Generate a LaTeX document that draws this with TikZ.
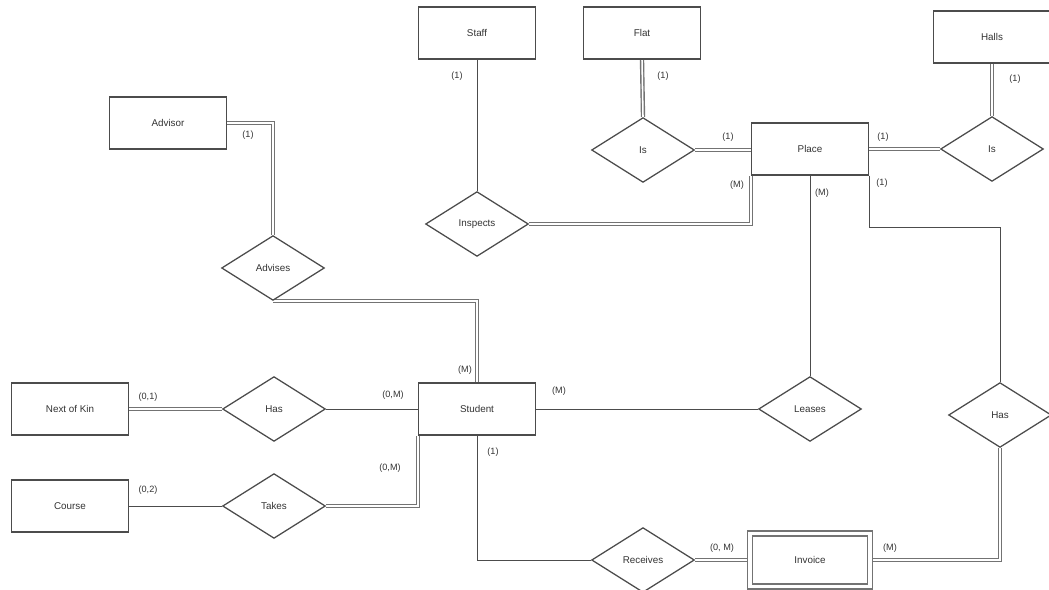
\documentclass[tikz,border=0pt]{standalone}
\usepackage{fontspec}
\setmainfont{Liberation Sans}
\usetikzlibrary{shapes.geometric,backgrounds}

\begin{document}
\begin{tikzpicture}[x=0.025cm,y=-0.025cm,
	entity/.style={draw=black!70,fill=white,line width=0.9pt,minimum width=2.92cm,minimum height=1.3cm,inner sep=0pt,font=\fontsize{7}{8}\selectfont,text=black!80},
	weak/.style={entity,double,double distance=2.5pt,line width=1pt,draw=black!55,minimum width=3.0cm,minimum height=1.32cm},
	relation/.style={draw=black!70,fill=white,line width=0.9pt,diamond,aspect=1.6,minimum width=2.57cm,minimum height=1.62cm,inner sep=0pt,font=\fontsize{7}{8}\selectfont,text=black!80},
	link/.style={draw=black!70,line width=0.7pt},
	dlink/.style={draw=black!55,line width=1pt,double,double distance=1.1pt},
	card/.style={font=\fontsize{6.5}{7}\selectfont,text=black!80,inner sep=0pt}]
		\useasboundingbox (0,0) rectangle (1049,590);
		% Entita
		\node [entity] (staff) at (477,33) {Staff};
		\node [entity] (flat) at (642,33) {Flat};
		\node [entity] (halls) at (992,37) {Halls};
		\node [entity] (advisor) at (168,123) {Advisor};
		\node [entity] (place) at (810,149) {Place};
		\node [entity] (kin) at (70,409) {Next of Kin};
		\node [entity] (course) at (70,506) {Course};
		\node [entity] (student) at (477,409) {Student};
		\node [weak] (invoice) at (810,560) {Invoice};
		% Relazioni
		\node [relation] (advises) at (273,268) {Advises};
		\node [relation] (inspects) at (477,224) {Inspects};
		\node [relation] (isflat) at (643,150) {Is};
		\node [relation] (ishalls) at (992,149) {Is};
		\node [relation] (haskin) at (274,409) {Has};
		\node [relation] (takes) at (274,506) {Takes};
		\node [relation] (leases) at (810,409) {Leases};
		\node [relation] (hasinv) at (1000,415) {Has};
		\node [relation] (receives) at (643,560) {Receives};
		% Collegamenti
		\begin{scope}[on background layer]
		\draw [dlink] (advisor.east) -| (advises.north);
		\draw [dlink] (advises.south) -| (student.north);
		\draw [link] (staff.south) -- (inspects.north);
		\draw [dlink] (flat.south) -- (isflat.north);
		\draw [dlink] (isflat.east) -- (isflat.east -| place.west);
		\draw [dlink] (inspects.east) -| (place.south west);
		\draw [dlink] (place.east) -- (ishalls.west);
		\draw [dlink] (halls.south) -- (ishalls.north);
		\draw [link] (place.south) -- (leases.north);
		\draw [link] (place.south east) -- ++(0,52) -| (hasinv.north);
		\draw [dlink] (hasinv.south) |- (invoice.east);
		\draw [link] (student.east) -- (leases.west);
		\draw [link] (haskin.east) -- (student.west);
		\draw [dlink] (kin.east) -- (haskin.west);
		\draw [link] (course.east) -- (takes.west);
		\draw [dlink] (takes.east) -| (student.south west);
		\draw [link] (student.south) |- (receives.west);
		\draw [dlink] (receives.east) -- (invoice.west);
		\end{scope}
		% Cardinalita
		\node [card] (c1) at (248,135) {(1)};
		\node [card] (c2) at (457,76) {(1)};
		\node [card] (c3) at (663,76) {(1)};
		\node [card] (c4) at (728,137) {(1)};
		\node [card] (c5) at (737,185) {(M)};
		\node [card] (c6) at (822,193) {(M)};
		\node [card] (c7) at (883,137) {(1)};
		\node [card] (c8) at (882,183) {(1)};
		\node [card] (c9) at (1015,79) {(1)};
		\node [card] (c10) at (465,370) {(M)};
		\node [card] (c11) at (393,395) {(0,M)};
		\node [card] (c12) at (559,391) {(M)};
		\node [card] (c13) at (390,468) {(0,M)};
		\node [card] (c14) at (493,452) {(1)};
		\node [card] (c15) at (148,397) {(0,1)};
		\node [card] (c16) at (148,490) {(0,2)};
		\node [card] (c17) at (722,548) {(0, M)};
		\node [card] (c18) at (890,548) {(M)};
	\end{tikzpicture}
\end{document}
